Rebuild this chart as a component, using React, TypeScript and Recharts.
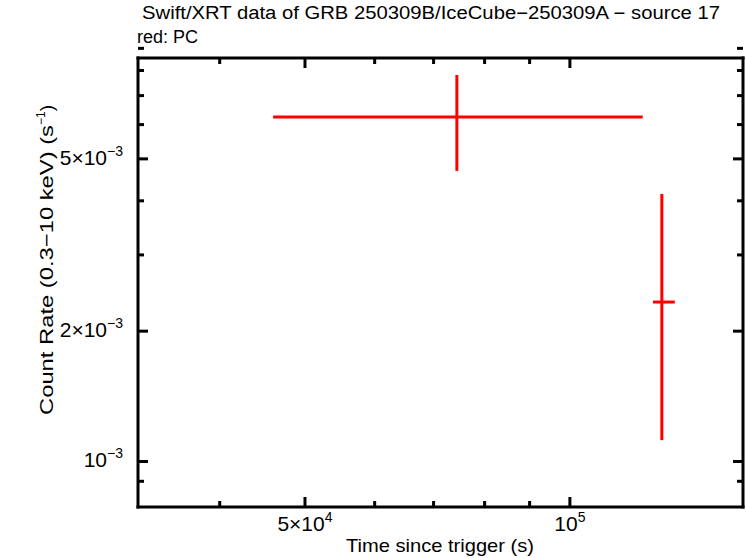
import React from 'react';
import { ComposedChart, Scatter, XAxis, YAxis, ErrorBar } from 'recharts';

// light curve bins (PC mode)
const times = [74400, 127200];
const timeStart = [46000, 124300];
const timeStop = [121000, 131600];
const rates = [6.25e-3, 2.335e-3];
const rateLow = [4.69e-3, 1.12e-3];
const rateHigh = [7.81e-3, 4.15e-3];

const xTicks = [40000, 50000, 60000, 70000, 80000, 90000, 100000];
const yTicks = [0.0009, 0.001, 0.002, 0.003, 0.004, 0.005, 0.006, 0.007, 0.008, 0.009];
const xLabels: Record<number, [string, string]> = { 50000: ['5×10', '4'], 100000: ['10', '5'] };
const yLabels: Record<number, [string, string]> = {
  0.005: ['5×10', '−3'],
  0.002: ['2×10', '−3'],
  0.001: ['10', '−3'],
};

const data = times.map((t, i) => ({
  time: t,
  rate: rates[i],
  errX: [t - timeStart[i], timeStop[i] - t],
  errY: [rates[i] - rateLow[i], rateHigh[i] - rates[i]],
}));

const FONT = '"Liberation Sans", Arial, Helvetica, sans-serif';
const RED = '#ff0000';

function tickLen(major: boolean) {
  return major ? 10 : 6;
}

// tick label with a superscript exponent
function PowLabel({ x, y, anchor, lab }: { x: number; y: number; anchor: 'middle' | 'end'; lab: [string, string] }) {
  return (
    <text x={x} y={y} textAnchor={anchor} fontFamily={FONT} fontSize={21} fill="#000" style={{ fontSize: 21 }}>
      {lab[0]}
      <tspan fontSize={14} style={{ fontSize: 14 }} dy={-9}>{lab[1]}</tspan>
    </text>
  );
}

function BottomTick(props: any) {
  const { x, y, payload } = props;
  const lab = xLabels[payload.value];
  return (
    <g>
      <line x1={x} x2={x} y1={y} y2={y - tickLen(!!lab)} stroke="#000" strokeWidth={3} />
      {lab && <PowLabel x={x} y={y + 24} anchor="middle" lab={lab} />}
    </g>
  );
}

function TopTick(props: any) {
  const { x, y, payload } = props;
  const major = !!xLabels[payload.value];
  return <line x1={x} x2={x} y1={y} y2={y + tickLen(major)} stroke="#000" strokeWidth={3} />;
}

function LeftTick(props: any) {
  const { x, y, payload } = props;
  const lab = yLabels[payload.value];
  return (
    <g>
      <line x1={x} x2={x + tickLen(!!lab)} y1={y} y2={y} stroke="#000" strokeWidth={3} />
      {lab && <PowLabel x={x - 15} y={y + 6} anchor="end" lab={lab} />}
    </g>
  );
}

function RightTick(props: any) {
  const { x, y, payload } = props;
  const major = !!yLabels[payload.value];
  return <line x1={x} x2={x - tickLen(major)} y1={y} y2={y} stroke="#000" strokeWidth={3} />;
}

const noDot = () => <g />;

export default function App() {
  const axisLine = { stroke: '#000', strokeWidth: 3, strokeLinecap: 'square' as const };
  return (
    <div style={{ position: 'absolute', left: 0, top: 0, width: 746, height: 558, background: '#fff' }}>
      <ComposedChart width={746} height={558} data={data} margin={{ top: 48, right: 0, bottom: 21, left: 38 }}>
        <XAxis
          xAxisId="b" dataKey="time" type="number" scale="log" domain={[32300, 157300]} allowDataOverflow
          ticks={xTicks} interval={0} height={30} tickSize={0} tickMargin={0} tickLine={false}
          axisLine={axisLine} tick={<BottomTick />}
        />
        <XAxis
          xAxisId="t" orientation="top" dataKey="time" type="number" scale="log" domain={[32300, 157300]}
          allowDataOverflow ticks={xTicks} interval={0} height={10} tickSize={0} tickMargin={0} tickLine={false}
          axisLine={axisLine} tick={<TopTick />}
        />
        <YAxis
          yAxisId="l" dataKey="rate" type="number" scale="log" domain={[0.000785, 0.00855]} allowDataOverflow
          ticks={yTicks} interval={0} width={100} tickSize={0} tickMargin={0} tickLine={false}
          axisLine={axisLine} tick={<LeftTick />}
        />
        <YAxis
          yAxisId="r" orientation="right" dataKey="rate" type="number" scale="log" domain={[0.000785, 0.00855]}
          allowDataOverflow ticks={yTicks} interval={0} width={3} tickSize={0} tickMargin={0} tickLine={false}
          axisLine={axisLine} tick={<RightTick />}
        />
        <Scatter xAxisId="b" yAxisId="l" dataKey="rate" shape={noDot} isAnimationActive={false}>
          <ErrorBar dataKey="errX" direction="x" width={0} stroke={RED} strokeWidth={3} />
          <ErrorBar dataKey="errY" direction="y" width={0} stroke={RED} strokeWidth={3} />
        </Scatter>
      </ComposedChart>
      <svg width={746} height={558} style={{ position: 'absolute', left: 0, top: 0, pointerEvents: 'none' }}>
        <text x={142} y={19} fontFamily={FONT} fontSize={18} fill="#000" textLength={578} lengthAdjust="spacingAndGlyphs">
          Swift/XRT data of GRB 250309B/IceCube−250309A − source 17
        </text>
        <text x={137} y={43} fontFamily={FONT} fontSize={18} fill="#000">red: PC</text>
        <text x={346} y={552} fontFamily={FONT} fontSize={19} fill="#000" textLength={188} lengthAdjust="spacingAndGlyphs">
          Time since trigger (s)
        </text>
        <text
          x={0} y={0} transform="translate(53,415) rotate(-90)"
          fontFamily={FONT} fontSize={19} fill="#000"
        >
          <tspan textLength={290} lengthAdjust="spacingAndGlyphs">Count Rate (0.3−10 keV) (s</tspan>
          <tspan fontSize={12} dy={-8}>−1</tspan>
          <tspan dy={8}>)</tspan>
        </text>
      </svg>
    </div>
  );
}
